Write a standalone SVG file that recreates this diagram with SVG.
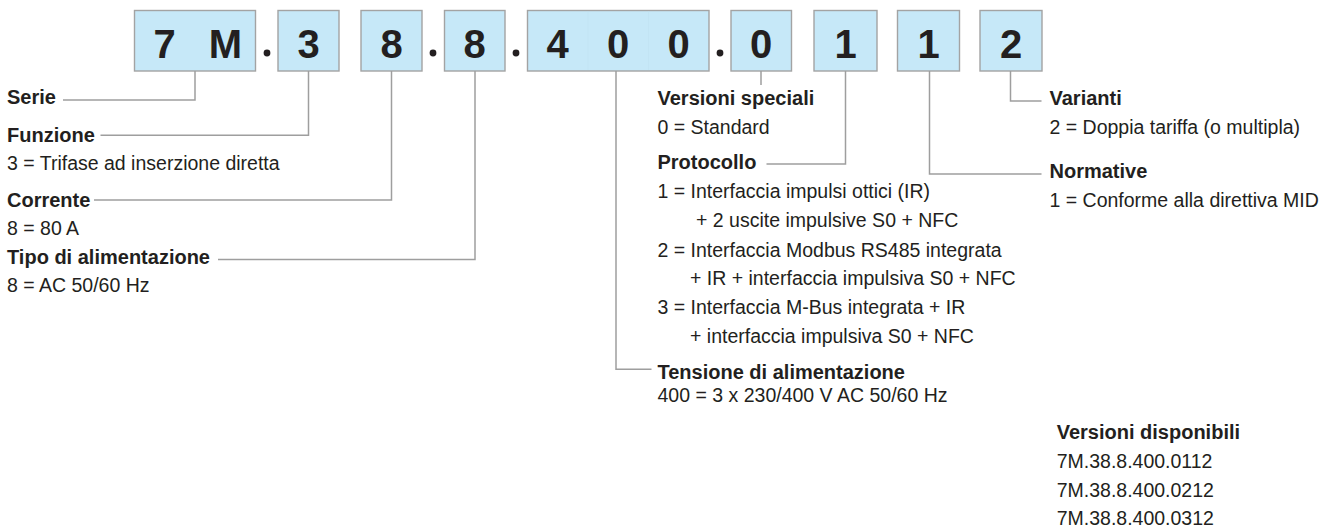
<svg xmlns="http://www.w3.org/2000/svg" width="1326" height="528" viewBox="0 0 1326 528">
  <style>
    .box { fill: #c6e8f8; stroke: #a3a3a3; stroke-width: 1.4; }
    .cell { stroke: #bfe0f0; stroke-width: 0.5; }
    .digit { font-family: "Liberation Sans", Arial, sans-serif; font-weight: bold; font-size: 40px; fill: #231f20; text-anchor: middle; }
    .dot { fill: #231f20; }
    .wire { fill: none; stroke: #9e9e9e; stroke-width: 1.5; }
    .lbl { font-family: "Liberation Sans", Arial, sans-serif; font-weight: bold; font-size: 20px; fill: #231f20; }
    .txt { font-family: "Liberation Sans", Arial, sans-serif; font-size: 19.5px; fill: #231f20; }
  </style>
  <rect width="1326" height="528" fill="#ffffff"/>

  <!-- code boxes -->
  <g id="code">
    <g id="box-serie">
      <rect class="box" x="134.5" y="10.5" width="121" height="60.5"/>
      <text class="digit" x="164.5" y="57.5">7</text>
      <text class="digit" x="225.5" y="57.5">M</text>
    </g>
    <circle class="dot" cx="267" cy="53" r="3.4"/>
    <g id="box-funzione">
      <rect class="box" x="278" y="10.5" width="61" height="60.5"/>
      <text class="digit" x="308.5" y="57.5">3</text>
    </g>
    <g id="box-corrente">
      <rect class="box" x="361" y="10.5" width="61" height="60.5"/>
      <text class="digit" x="391.5" y="57.5">8</text>
    </g>
    <circle class="dot" cx="433" cy="53" r="3.4"/>
    <g id="box-alimentazione">
      <rect class="box" x="444.5" y="10.5" width="60.5" height="60.5"/>
      <text class="digit" x="474.7" y="57.5">8</text>
    </g>
    <circle class="dot" cx="516" cy="53" r="3.4"/>
    <g id="box-tensione">
      <rect class="box" x="527.5" y="10.5" width="181.5" height="60.5"/>
      <line class="cell" x1="588" y1="11.5" x2="588" y2="70"/>
      <line class="cell" x1="648.5" y1="11.5" x2="648.5" y2="70"/>
      <text class="digit" x="557.7" y="57.5">4</text>
      <text class="digit" x="618.2" y="57.5">0</text>
      <text class="digit" x="678.7" y="57.5">0</text>
    </g>
    <circle class="dot" cx="720" cy="53" r="3.4"/>
    <g id="box-speciali">
      <rect class="box" x="731" y="10.5" width="60.5" height="60.5"/>
      <text class="digit" x="761.2" y="57.5">0</text>
    </g>
    <g id="box-protocollo">
      <rect class="box" x="814" y="10.5" width="63" height="60.5"/>
      <text class="digit" x="845.5" y="57.5">1</text>
    </g>
    <g id="box-normative">
      <rect class="box" x="897.5" y="10.5" width="62" height="60.5"/>
      <text class="digit" x="928.5" y="57.5">1</text>
    </g>
    <g id="box-varianti">
      <rect class="box" x="980" y="10.5" width="62" height="60.5"/>
      <text class="digit" x="1011" y="57.5">2</text>
    </g>
  </g>

  <!-- leader lines from each code position to its legend -->
  <g id="connectors">
    <polyline class="wire" points="195,71 195,100 63,100"/>
    <polyline class="wire" points="308.5,71 308.5,135.3 100.5,135.3"/>
    <polyline class="wire" points="391.5,71 391.5,200 94,200"/>
    <polyline class="wire" points="475,71 475,259.5 218,259.5"/>
    <polyline class="wire" points="616,71 616,369.3 651.5,369.3"/>
    <polyline class="wire" points="761,71 761,85"/>
    <polyline class="wire" points="845.5,71 845.5,164 766.5,164"/>
    <polyline class="wire" points="929.5,71 929.5,174 1041.5,174"/>
    <polyline class="wire" points="1010.5,71 1010.5,101 1041.5,101"/>
  </g>

  <!-- left legend -->
  <g id="serie">
    <text class="lbl" x="7" y="104.3">Serie</text>
  </g>
  <g id="funzione">
    <text class="lbl" x="7" y="141.7">Funzione</text>
    <text class="txt" x="7" y="170">3 = Trifase ad inserzione diretta</text>
  </g>
  <g id="corrente">
    <text class="lbl" x="7" y="206.7">Corrente</text>
    <text class="txt" x="7" y="235">8 = 80 A</text>
  </g>
  <g id="alimentazione">
    <text class="lbl" x="7" y="263.5">Tipo di alimentazione</text>
    <text class="txt" x="7" y="292.3">8 = AC 50/60 Hz</text>
  </g>

  <!-- middle legend -->
  <g id="speciali">
    <text class="lbl" x="657.5" y="105">Versioni speciali</text>
    <text class="txt" x="657.5" y="133.5">0 = Standard</text>
  </g>
  <g id="protocollo">
    <text class="lbl" x="657.5" y="169.3">Protocollo</text>
    <text class="txt" x="657.5" y="198.3">1 = Interfaccia impulsi ottici (IR)</text>
    <text class="txt" x="696" y="227.3">+ 2 uscite impulsive S0 + NFC</text>
    <text class="txt" x="657.5" y="256.7">2 = Interfaccia Modbus RS485 integrata</text>
    <text class="txt" x="690" y="285">+ IR + interfaccia impulsiva S0 + NFC</text>
    <text class="txt" x="657.5" y="314.3">3 = Interfaccia M-Bus integrata + IR</text>
    <text class="txt" x="690" y="342.7">+ interfaccia impulsiva S0 + NFC</text>
  </g>
  <g id="tensione">
    <text class="lbl" x="657.5" y="378.8">Tensione di alimentazione</text>
    <text class="txt" x="657.5" y="401.7">400 = 3 x 230/400 V AC 50/60 Hz</text>
  </g>

  <!-- right legend -->
  <g id="varianti">
    <text class="lbl" x="1049.5" y="105">Varianti</text>
    <text class="txt" x="1049.5" y="133.5">2 = Doppia tariffa (o multipla)</text>
  </g>
  <g id="normative">
    <text class="lbl" x="1049.5" y="178.3">Normative</text>
    <text class="txt" x="1049.5" y="206.7">1 = Conforme alla direttiva MID</text>
  </g>
  <g id="disponibili">
    <text class="lbl" x="1056.7" y="439.3">Versioni disponibili</text>
    <text class="txt" x="1056.7" y="468.3">7M.38.8.400.0112</text>
    <text class="txt" x="1056.7" y="496.7">7M.38.8.400.0212</text>
    <text class="txt" x="1056.7" y="525">7M.38.8.400.0312</text>
  </g>
</svg>
